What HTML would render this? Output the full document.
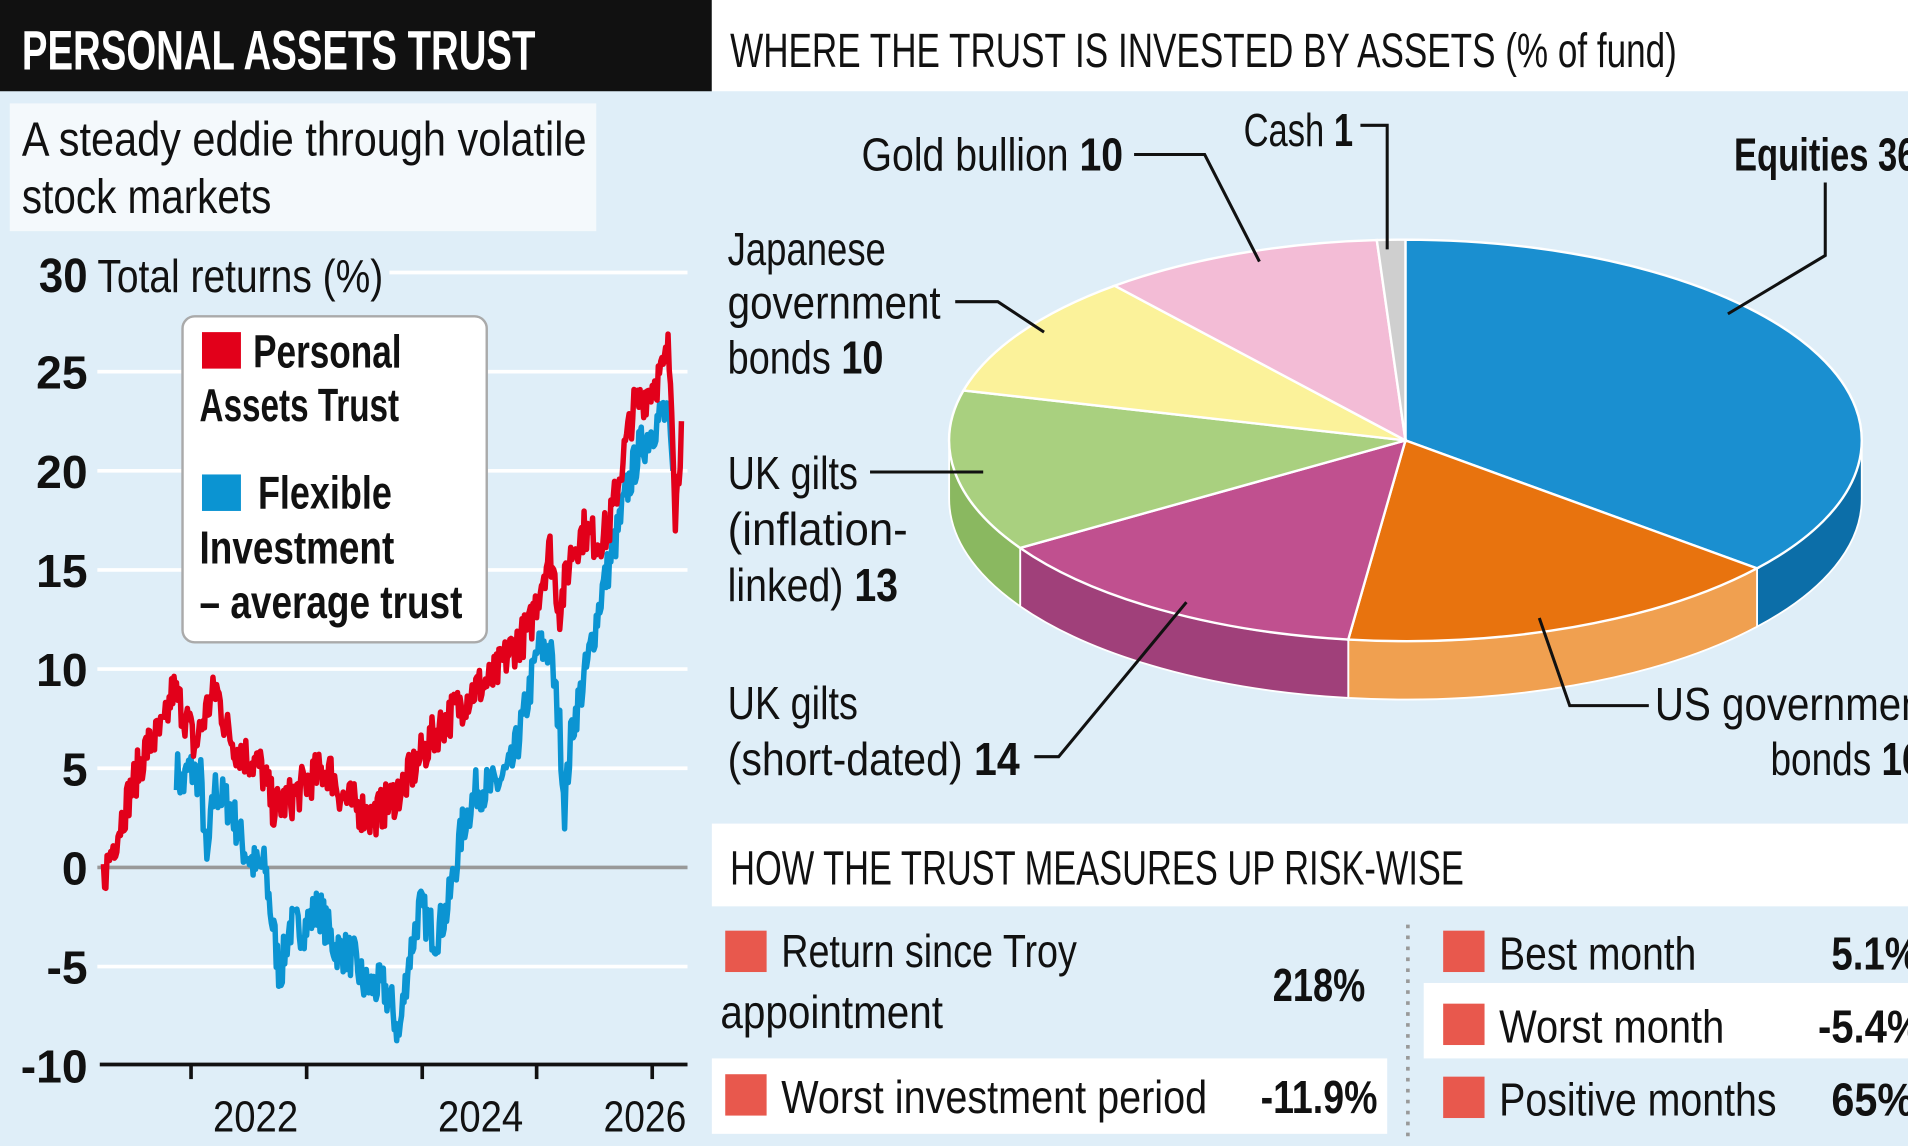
<!DOCTYPE html>
<html><head><meta charset="utf-8"><style>
html,body{margin:0;padding:0;background:#dfeef8;}
svg{display:block}
text{font-family:"Liberation Sans",sans-serif;fill:#111}
</style></head><body>
<svg id="s" width="1908" height="1146" viewBox="0 0 1568 942" preserveAspectRatio="none" xmlns="http://www.w3.org/2000/svg">
<rect x="0" y="0" width="1568" height="942" fill="#dfeef8"/>
<rect x="0" y="0" width="585" height="75" fill="#111"/>
<text x="18" y="57" font-size="46" font-weight="bold" style="fill:#fff" textLength="422" lengthAdjust="spacingAndGlyphs">PERSONAL ASSETS TRUST</text>
<rect x="585" y="0" width="983" height="75" fill="#fff"/>
<text x="600" y="55" font-size="40" textLength="778" lengthAdjust="spacingAndGlyphs">WHERE THE TRUST IS INVESTED BY ASSETS (% of fund)</text>
<rect x="8" y="85" width="482" height="105" fill="#f4f9fc"/>
<text x="18" y="128" font-size="40" textLength="464" lengthAdjust="spacingAndGlyphs">A steady eddie through volatile</text>
<text x="18" y="175" font-size="40" textLength="205" lengthAdjust="spacingAndGlyphs">stock markets</text>
<g id="grid"></g>
<text x="32" y="240" font-size="40" font-weight="bold" textLength="40" lengthAdjust="spacingAndGlyphs">30</text>
<text x="80" y="240" font-size="38" textLength="235" lengthAdjust="spacingAndGlyphs">Total returns (%)</text>
<g id="ylab" font-size="38" font-weight="bold"></g>
<line x1="82" y1="875" x2="565" y2="875" stroke="#111" stroke-width="3"/>
<g id="ticks"></g>
<text x="175" y="930" font-size="36" textLength="70" lengthAdjust="spacingAndGlyphs">2022</text>
<text x="360" y="930" font-size="36" textLength="70" lengthAdjust="spacingAndGlyphs">2024</text>
<text x="496" y="930" font-size="36" textLength="68" lengthAdjust="spacingAndGlyphs">2026</text>
<g id="series"></g>
<rect x="150" y="260" width="250" height="268" rx="10" fill="#fff" stroke="#aaa" stroke-width="2"/>
<rect x="166" y="273" width="32" height="30" fill="#e2001a"/>
<text x="208" y="302" font-size="38" font-weight="bold" textLength="122" lengthAdjust="spacingAndGlyphs">Personal</text>
<text x="164" y="346" font-size="38" font-weight="bold" textLength="164" lengthAdjust="spacingAndGlyphs">Assets Trust</text>
<rect x="166" y="390" width="32" height="30" fill="#0b94d2"/>
<text x="212" y="418" font-size="38" font-weight="bold" textLength="110" lengthAdjust="spacingAndGlyphs">Flexible</text>
<text x="164" y="463" font-size="38" font-weight="bold" textLength="160" lengthAdjust="spacingAndGlyphs">Investment</text>
<text x="164" y="508" font-size="38" font-weight="bold" textLength="216" lengthAdjust="spacingAndGlyphs">– average trust</text>
<g id="pie"></g>
<g fill="none" stroke="#111" stroke-width="2.5">
<polyline points="1500,150 1500,210 1420,258"/>
<polyline points="1265,508 1290,580 1355,580"/>
<polyline points="850,622 870,622 975,495"/>
<polyline points="715,388 808,388"/>
<polyline points="785,248 820,248 858,273"/>
<polyline points="932,127 990,127 1035,215"/>
<polyline points="1118,103 1140,103 1140,205"/>
</g>
<g font-size="38">
<text x="1425" y="140" font-weight="bold" textLength="150" lengthAdjust="spacingAndGlyphs">Equities 36</text>
<text x="708" y="140" textLength="215" lengthAdjust="spacingAndGlyphs">Gold bullion <tspan font-weight="bold">10</tspan></text>
<text x="1022" y="120" textLength="90" lengthAdjust="spacingAndGlyphs">Cash <tspan font-weight="bold">1</tspan></text>
<text x="598" y="218" textLength="130" lengthAdjust="spacingAndGlyphs">Japanese</text>
<text x="598" y="262" textLength="175" lengthAdjust="spacingAndGlyphs">government</text>
<text x="598" y="307" textLength="128" lengthAdjust="spacingAndGlyphs">bonds <tspan font-weight="bold">10</tspan></text>
<text x="598" y="402" textLength="107" lengthAdjust="spacingAndGlyphs">UK gilts</text>
<text x="598" y="448" textLength="148" lengthAdjust="spacingAndGlyphs">(inflation-</text>
<text x="598" y="494" textLength="140" lengthAdjust="spacingAndGlyphs">linked) <tspan font-weight="bold">13</tspan></text>
<text x="598" y="591" textLength="107" lengthAdjust="spacingAndGlyphs">UK gilts</text>
<text x="598" y="637" textLength="240" lengthAdjust="spacingAndGlyphs">(short-dated) <tspan font-weight="bold">14</tspan></text>
<text x="1360" y="592" textLength="230" lengthAdjust="spacingAndGlyphs">US government</text>
<text x="1455" y="637" textLength="125" lengthAdjust="spacingAndGlyphs">bonds <tspan font-weight="bold">16</tspan></text>
</g>
<rect x="585" y="677" width="983" height="68" fill="#fff"/>
<text x="600" y="727" font-size="40" textLength="603" lengthAdjust="spacingAndGlyphs">HOW THE TRUST MEASURES UP RISK-WISE</text>
<rect x="585" y="870" width="555" height="62" fill="#fff"/>
<rect x="1170" y="808" width="398" height="62" fill="#fff"/>
<line x1="1157" y1="760" x2="1157" y2="938" stroke="#999" stroke-width="3" stroke-dasharray="3,6"/>
<g fill="#e8584d">
<rect x="596" y="765" width="34" height="34"/><rect x="596" y="883" width="34" height="34"/>
<rect x="1186" y="765" width="34" height="34"/><rect x="1186" y="825" width="34" height="34"/><rect x="1186" y="885" width="34" height="34"/>
</g>
<g font-size="38">
<text x="642" y="795" textLength="243" lengthAdjust="spacingAndGlyphs">Return since Troy</text>
<text x="592" y="845" textLength="183" lengthAdjust="spacingAndGlyphs">appointment</text>
<text x="1046" y="823" font-weight="bold" textLength="76" lengthAdjust="spacingAndGlyphs">218%</text>
<text x="642" y="915" textLength="350" lengthAdjust="spacingAndGlyphs">Worst investment period</text>
<text x="1036" y="915" font-weight="bold" textLength="96" lengthAdjust="spacingAndGlyphs">-11.9%</text>
<text x="1232" y="797" textLength="162" lengthAdjust="spacingAndGlyphs">Best month</text>
<text x="1505" y="797" font-weight="bold" textLength="72" lengthAdjust="spacingAndGlyphs">5.1%</text>
<text x="1232" y="857" textLength="185" lengthAdjust="spacingAndGlyphs">Worst month</text>
<text x="1494" y="857" font-weight="bold" textLength="86" lengthAdjust="spacingAndGlyphs">-5.4%</text>
<text x="1232" y="917" textLength="228" lengthAdjust="spacingAndGlyphs">Positive months</text>
<text x="1505" y="917" font-weight="bold" textLength="68" lengthAdjust="spacingAndGlyphs">65%</text>
</g>
</svg>
<script>
var NS="http://www.w3.org/2000/svg";
function el(p,t,a){var e=document.createElementNS(NS,t);for(var k in a)e.setAttribute(k,a[k]);document.getElementById(p).appendChild(e);return e;}
function Y(v){return 713-v*16.3;}
[25,20,15,10,5,-5].forEach(function(v){el("grid","line",{x1:80,x2:565,y1:Y(v),y2:Y(v),stroke:"#fff","stroke-width":3});});
el("grid","line",{x1:320,x2:565,y1:Y(30),y2:Y(30),stroke:"#fff","stroke-width":3});
el("grid","line",{x1:80,x2:565,y1:Y(0),y2:Y(0),stroke:"#999","stroke-width":3});
[[25,"25"],[20,"20"],[15,"15"],[10,"10"],[5,"5"],[0,"0"],[-5,"-5"],[-10,"-10"]].forEach(function(a){var t=el("ylab","text",{x:72,y:Y(a[0])+14,"text-anchor":"end"});t.textContent=a[1];});
[157,252,347,441,536].forEach(function(x){el("ticks","line",{x1:x,x2:x,y1:875,y2:887,stroke:"#111","stroke-width":3});});
var seed=7;function rnd(){seed=(seed*16807)%2147483647;return seed/2147483647;}
function series(anch,col,amp){var pts=[];for(var i=0;i<anch.length-1;i++){var a=anch[i],b=anch[i+1];for(var x=a[0];x<b[0];x+=1){var t=(x-a[0])/(b[0]-a[0]);var v=a[1]+(b[1]-a[1])*t+(rnd()-0.5)*amp;pts.push(x+","+Y(v).toFixed(1));}}
var l=anch[anch.length-1];pts.push(l[0]+","+Y(l[1]));
el("series","polyline",{points:pts.join(" "),fill:"none",stroke:col,"stroke-width":4.5,"stroke-linejoin":"round"});}
series([[145,5],[150,4],[155,5],[165,4.5],[170,0],[176,4],[190,3],[200,1],[210,0],[218,0],[222,-2],[230,-5.5],[238,-3],[250,-3],[262,-2],[275,-4],[290,-4.5],[300,-6],[315,-6],[322,-7],[328,-8.5],[335,-5],[345,-2],[358,-3.5],[368,-2],[380,2],[392,4],[405,4],[420,5],[432,8],[442,11],[452,11],[460,7],[464,3],[470,7],[482,10],[495,14],[508,17],[515,19],[525,21],[535,22],[545,23],[550,22],[553,20]],"#0b94d2",2.2);
series([[85,-0.5],[95,1.5],[108,4],[120,6],[135,7],[142,9],[150,8],[156,7],[160,6],[170,8],[178,9],[186,7],[195,6],[205,5.5],[215,5],[225,3],[240,3.5],[255,4.5],[270,5],[282,3.5],[295,3],[305,2.5],[318,3.2],[330,4],[345,5.5],[360,7],[375,8],[390,9],[405,9.5],[420,11],[435,12],[445,14.5],[452,16],[460,13],[470,16],[480,17],[490,16.5],[500,17],[510,20],[520,23],[532,24],[545,25],[549,26],[552,24],[555,18],[558,20],[560,22.5]],"#e2001a",2.2);
// pie
var cx=1155,cy=362,rx=375,ry=165,d=48;
var sl=[[36,"#1a8fd0","#0c6ea8"],[16,"#e8730e","#f0a050"],[14,"#c0508f","#a0407a"],[13,"#a9d07f","#8ab860"],[10,"#fbf29a","#e0d880"],[10,"#f3bcd6","#d8a0bc"],[1,"#cfcfcf","#b0b0b0"]];
function P(th,dy){return [cx+rx*Math.sin(th),cy-ry*Math.cos(th)+(dy||0)];}
var acc=0,arr=[];sl.forEach(function(s){var a=acc/100*2*Math.PI;acc+=s[0];var b=acc/100*2*Math.PI;arr.push([a,b,s]);});
arr.forEach(function(q){var a=Math.max(q[0],Math.PI/2),b=Math.min(q[1],3*Math.PI/2);if(b<=a)return;
var p1=P(a),p2=P(b),p3=P(b,d),p4=P(a,d);
el("pie","path",{d:"M"+p1+" A"+rx+" "+ry+" 0 0 1 "+p2+" L"+p3+" A"+rx+" "+ry+" 0 0 0 "+p4+" Z",fill:q[2][2],stroke:"#fff","stroke-width":1.5});});
arr.forEach(function(q){var p1=P(q[0]),p2=P(q[1]);var large=(q[1]-q[0])>Math.PI?1:0;
el("pie","path",{d:"M"+cx+","+cy+" L"+p1+" A"+rx+" "+ry+" 0 "+large+" 1 "+p2+" Z",fill:q[2][1],stroke:"#fff","stroke-width":2});});
</script>
</body></html>
